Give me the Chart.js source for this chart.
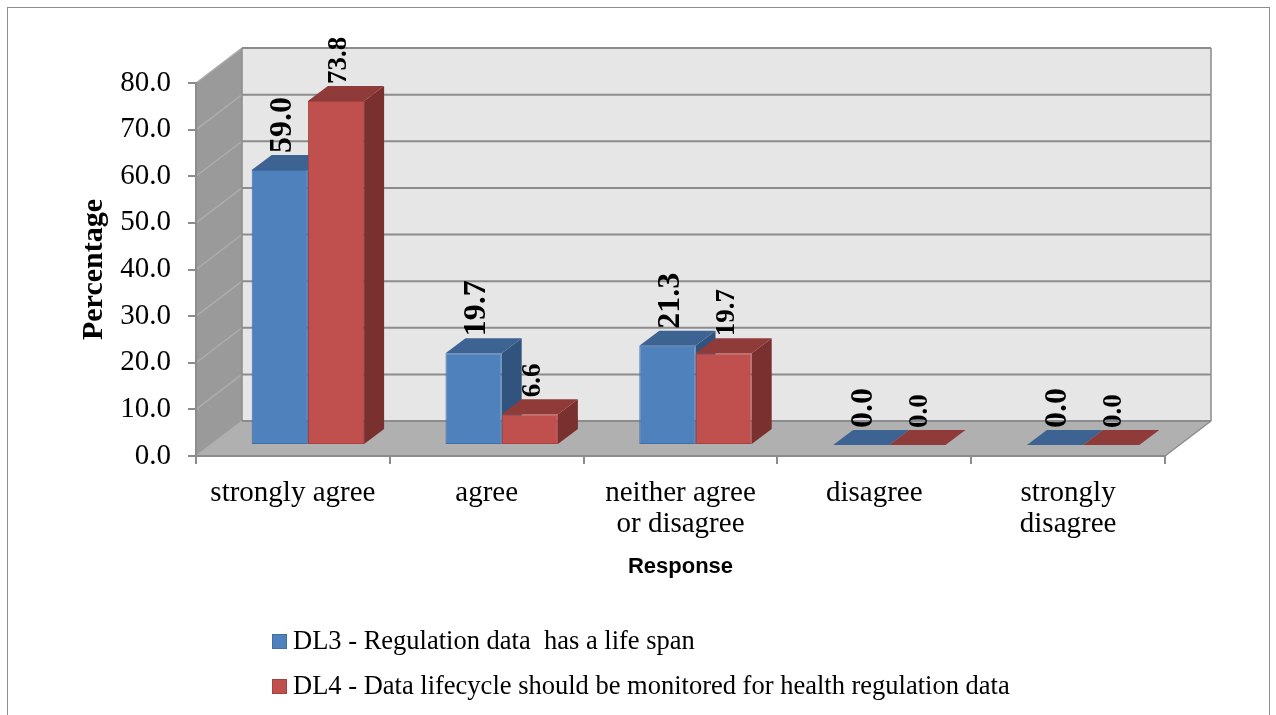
<!DOCTYPE html>
<html>
<head>
<meta charset="utf-8">
<script src="https://cdn.jsdelivr.net/npm/chart.js@4.4.1/dist/chart.umd.min.js"></script>
<style>
  html, body { margin: 0; padding: 0; background: #fff; }
  #wrap { position: relative; width: 1276px; height: 715px; overflow: hidden; }
  #frame { position: absolute; left: 7px; top: 7px; width: 1263px; height: 740px;
           border: 1px solid #8e8e8e; box-sizing: border-box; pointer-events: none; }
  canvas { position: absolute; left: 0; top: 0; }
</style>
</head>
<body>
<div id="wrap">
  <canvas id="chart" width="1276" height="715"></canvas>
  <div id="frame"></div>
</div>
<script>
// Survey responses (percent of respondents)
const categories = ['strongly agree', 'agree', ['neither agree', 'or disagree'], 'disagree', ['strongly', 'disagree']];
const dl3Values = [59.0, 19.7, 21.3, 0.0, 0.0];
const dl4Values = [73.8, 6.6, 19.7, 0.0, 0.0];
const seriesNames = [
  'DL3 - Regulation data  has a life span',
  'DL4 - Data lifecycle should be monitored for health regulation data'
];
const yTickValues = [0, 10, 20, 30, 40, 50, 60, 70, 80];

// Pseudo-3D geometry
const WALL_DX = 46, WALL_DY = -35;   // depth of the floor / back wall
const BAR_SHIFT_X = 15, BAR_SHIFT_Y = -11; // bars sit a little behind the front edge
const BAR_DX = 20, BAR_DY = -15;     // depth of each bar

const faceColors = [
  { top: '#3d6392', side: '#31547f', label: 32 },
  { top: '#8f3b39', side: '#7a302e', label: 27 }
];

const serif = '"Liberation Serif", "Times New Roman", serif';

const room3d = {
  id: 'room3d',
  beforeDraw(chart) {
    const { ctx, chartArea: a, scales: { y } } = chart;
    const yTop = y.getPixelForValue(yTickValues[yTickValues.length - 1]);
    const yBot = y.getPixelForValue(0);
    ctx.save();
    // side wall
    ctx.fillStyle = '#9a9a9a';
    ctx.beginPath();
    ctx.moveTo(a.left, yTop); ctx.lineTo(a.left + WALL_DX, yTop + WALL_DY);
    ctx.lineTo(a.left + WALL_DX, yBot + WALL_DY); ctx.lineTo(a.left, yBot);
    ctx.closePath(); ctx.fill();
    // back wall
    ctx.fillStyle = '#e6e6e6';
    ctx.fillRect(a.left + WALL_DX, yTop + WALL_DY, a.right - a.left, yBot - yTop);
    // floor
    ctx.fillStyle = '#b0b0b0';
    ctx.beginPath();
    ctx.moveTo(a.left, yBot); ctx.lineTo(a.right, yBot);
    ctx.lineTo(a.right + WALL_DX, yBot + WALL_DY); ctx.lineTo(a.left + WALL_DX, yBot + WALL_DY);
    ctx.closePath(); ctx.fill();
    // gridlines on back wall and side wall
    yTickValues.forEach(v => {
      const py = y.getPixelForValue(v);
      ctx.strokeStyle = '#8c8c8c'; ctx.lineWidth = 2;
      ctx.beginPath();
      ctx.moveTo(a.left + WALL_DX, py + WALL_DY); ctx.lineTo(a.right + WALL_DX, py + WALL_DY);
      ctx.stroke();
      ctx.strokeStyle = '#adadad'; ctx.lineWidth = 1.5;
      ctx.beginPath();
      ctx.moveTo(a.left, py); ctx.lineTo(a.left + WALL_DX, py + WALL_DY);
      ctx.stroke();
    });
    // edges
    ctx.strokeStyle = '#8c8c8c'; ctx.lineWidth = 1.5;
    ctx.beginPath();
    ctx.moveTo(a.right + WALL_DX, yTop + WALL_DY); ctx.lineTo(a.right + WALL_DX, yBot + WALL_DY);
    ctx.lineTo(a.right, yBot);
    ctx.moveTo(a.left + WALL_DX, yTop + WALL_DY); ctx.lineTo(a.left + WALL_DX, yBot + WALL_DY);
    ctx.stroke();
    ctx.restore();
  },
  beforeDatasetsDraw(chart) {
    const { ctx } = chart;
    const metas = chart.getSortedVisibleDatasetMetas();
    const n = chart.data.labels.length;
    ctx.save();
    for (let i = 0; i < n; i++) {
      metas.forEach(meta => {
        const bar = meta.data[i];
        const { x, y, base, width } = bar.getProps(['x', 'y', 'base', 'width'], true);
        const L = x - width / 2 + BAR_SHIFT_X, R = x + width / 2 + BAR_SHIFT_X;
        const T = y + BAR_SHIFT_Y, B = base + BAR_SHIFT_Y;
        const fc = faceColors[meta.index];
        // right side
        ctx.fillStyle = fc.side;
        ctx.beginPath();
        ctx.moveTo(R, T); ctx.lineTo(R + BAR_DX, T + BAR_DY);
        ctx.lineTo(R + BAR_DX, B + BAR_DY); ctx.lineTo(R, B);
        ctx.closePath(); ctx.fill();
        // top
        ctx.fillStyle = fc.top;
        ctx.beginPath();
        ctx.moveTo(L, T); ctx.lineTo(R, T);
        ctx.lineTo(R + BAR_DX, T + BAR_DY); ctx.lineTo(L + BAR_DX, T + BAR_DY);
        ctx.closePath(); ctx.fill();
      });
    }
    ctx.restore();
    // front faces are drawn by Chart.js in the shifted plane
    ctx.save();
    ctx.translate(BAR_SHIFT_X, BAR_SHIFT_Y);
  },
  afterDatasetsDraw(chart) {
    const { ctx } = chart;
    ctx.restore();
    // rotated value labels
    ctx.save();
    ctx.fillStyle = '#000';
    ctx.textAlign = 'left';
    ctx.textBaseline = 'middle';
    chart.getSortedVisibleDatasetMetas().forEach(meta => {
      const ds = chart.data.datasets[meta.index];
      ctx.font = 'bold ' + faceColors[meta.index].label + 'px ' + serif;
      meta.data.forEach((bar, i) => {
        const { x, y } = bar.getProps(['x', 'y'], true);
        ctx.save();
        ctx.translate(x + BAR_SHIFT_X + 3, y + BAR_SHIFT_Y - 17);
        ctx.rotate(-Math.PI / 2);
        ctx.fillText(ds.data[i].toFixed(1), 0, 0);
        ctx.restore();
      });
    });
    ctx.restore();
  },
  afterDraw(chart) {
    const { ctx } = chart;
    ctx.save();
    ctx.font = '26.5px ' + serif;
    ctx.textBaseline = 'middle';
    ctx.textAlign = 'left';
    chart.data.datasets.forEach((ds, i) => {
      const cy = 642 + i * 45;
      ctx.fillStyle = ds.backgroundColor;
      ctx.fillRect(272, cy - 8, 15, 15);
      ctx.strokeStyle = ds.borderColor; ctx.lineWidth = 1;
      ctx.strokeRect(272.5, cy - 7.5, 14, 14);
      ctx.fillStyle = '#000';
      ctx.fillText(ds.label, 293, cy);
    });
    ctx.restore();
  }
};

new Chart(document.getElementById('chart'), {
  type: 'bar',
  data: {
    labels: categories,
    datasets: [
      { label: seriesNames[0], data: dl3Values, backgroundColor: '#4f81bd', borderColor: '#3f6ea8',
        borderWidth: 1, borderSkipped: false, clip: false },
      { label: seriesNames[1], data: dl4Values, backgroundColor: '#c0504d', borderColor: '#a8423f',
        borderWidth: 1, borderSkipped: false, clip: false }
    ]
  },
  options: {
    responsive: false,
    animation: false,
    events: [],
    datasets: { bar: { categoryPercentage: 0.58, barPercentage: 1.0 } },
    layout: { padding: { left: 0, top: 83, right: 111, bottom: 115 } },
    plugins: { legend: { display: false }, tooltip: { enabled: false } },
    scales: {
      x: {
        grid: { display: true, drawOnChartArea: false, drawTicks: true, tickLength: 8, color: '#8c8c8c', lineWidth: 2, offset: true },
        border: { display: true, color: '#8c8c8c', width: 2 },
        ticks: { color: '#000', font: { family: serif, size: 29, lineHeight: 1.1 }, padding: 13, maxRotation: 0, autoSkip: false },
        title: { display: true, text: 'Response', color: '#000',
                 font: { family: '"Liberation Sans", Arial, sans-serif', size: 22, weight: 'bold', lineHeight: 1.2 },
                 padding: { top: 0, bottom: 20 } },
        afterFit(s) { s.height = 144; }
      },
      y: {
        min: 0, max: 80,
        grid: { display: true, drawOnChartArea: false, drawTicks: true, tickLength: 8, color: '#8c8c8c', lineWidth: 2 },
        border: { display: true, color: '#8c8c8c', width: 2 },
        afterBuildTicks(s) { s.ticks = yTickValues.map(v => ({ value: v })); },
        ticks: { color: '#000', font: { family: serif, size: 29 }, padding: 17,
                 callback: v => Number(v).toFixed(1) },
        title: { display: true, text: 'Percentage', color: '#000',
                 font: { family: serif, size: 30, weight: 'bold', lineHeight: 1.2 },
                 padding: { top: 76, bottom: 0 } },
        afterFit(s) { s.width = 196; }
      }
    }
  },
  plugins: [room3d]
});
</script>
</body>
</html>
